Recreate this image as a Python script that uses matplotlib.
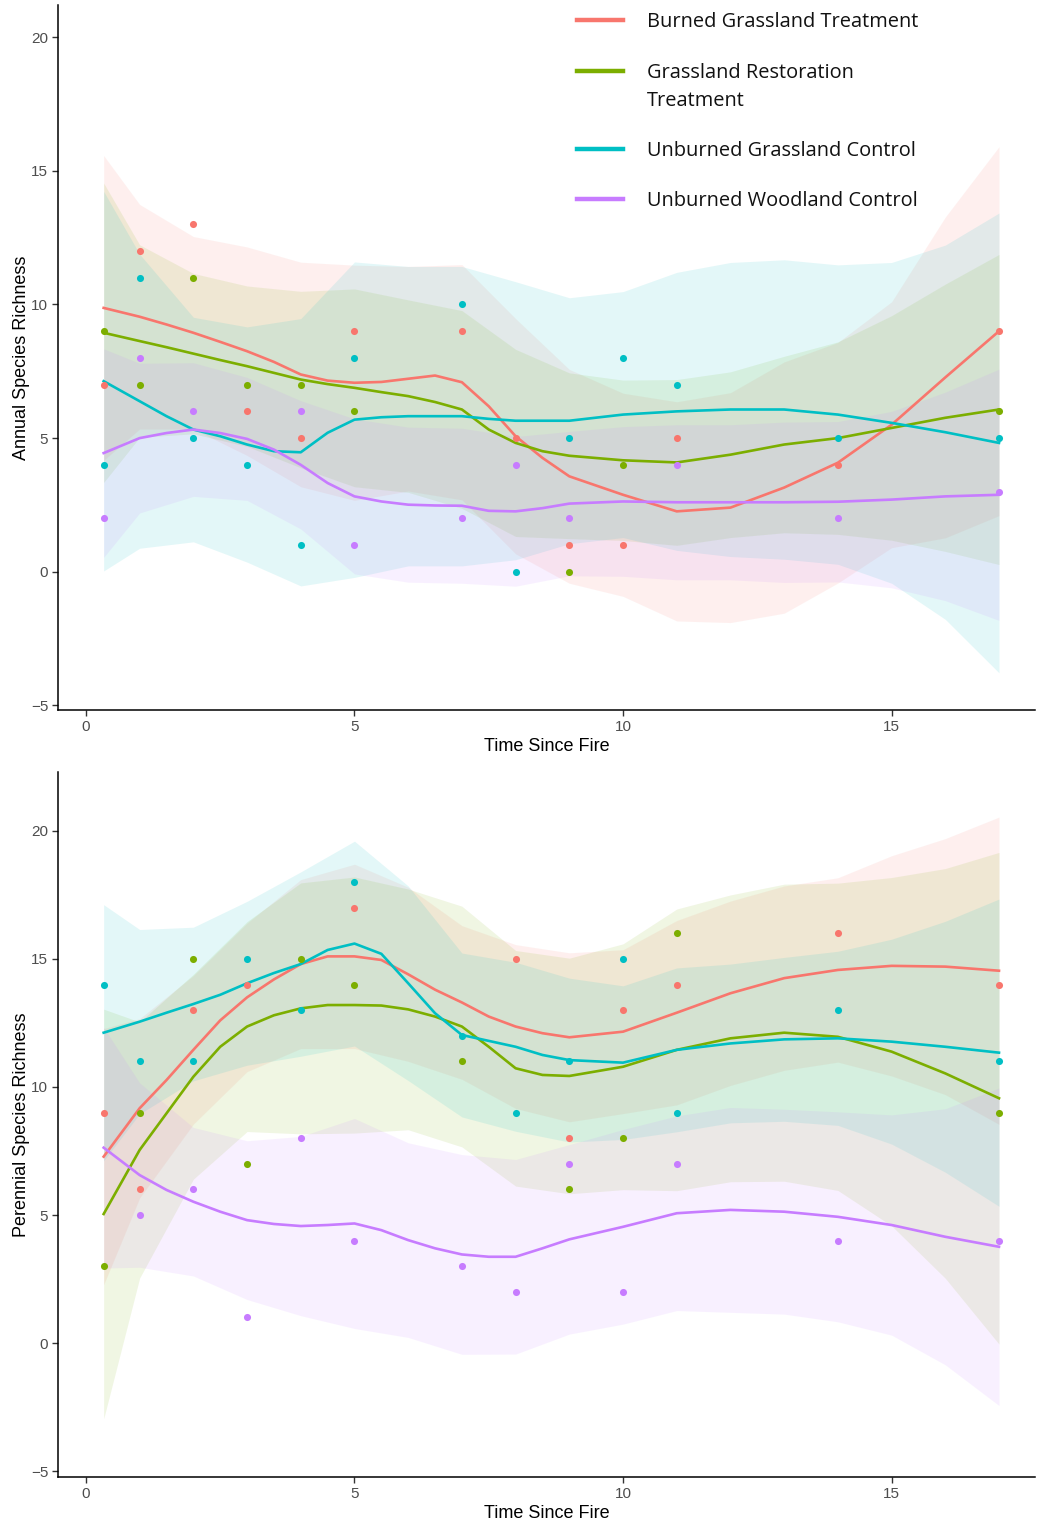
import numpy as np
import matplotlib
matplotlib.use("Agg")
import matplotlib.pyplot as plt
from matplotlib.lines import Line2D

nan = np.nan

# sampling years
years = [0.33, 1, 2, 3, 4, 5, 7, 8, 9, 10, 11, 14, 17]

# annual richness per plot
ann_burned = [7, 12, 13, 6, 5, 9, 9, 5, 1, 1, 5, 4, 9]
ann_restore = [9, 7, 11, 7, 7, 6, nan, nan, 0, 4, nan, nan, 6]
ann_unburned = [4, 11, 5, 4, 1, 8, 10, 0, 5, 8, 7, 5, 5]
ann_woodland = [2, 8, 6, nan, 6, 1, 2, 4, 2, nan, 4, 2, 3]

# perennial richness per plot
per_burned = [9, 6, 13, 14, nan, 17, nan, 15, 8, 13, 14, 16, 14]
per_restore = [3, 9, 15, 7, 15, 14, 11, nan, 6, 8, 16, nan, 9]
per_unburned = [14, 11, 11, 15, 13, 18, 12, 9, 11, 15, 9, 13, 11]
per_woodland = [nan, 5, 6, 1, 8, 4, 3, 2, 7, 2, 7, 4, 4]

# loess fits
fit_x = [0.33, 1, 1.5, 2, 2.5, 3, 3.5, 4, 4.5, 5, 5.5, 6, 6.5, 7, 7.5, 8, 8.5, 9,
         10, 11, 12, 13, 14, 15, 16, 17]
ann_fit_burned = [9.87, 9.54, 9.25, 8.94, 8.6, 8.25, 7.85, 7.38, 7.15, 7.07, 7.1, 7.22, 7.34,
                  7.09, 6.19, 5.07, 4.26, 3.57, 2.88, 2.26, 2.4, 3.15, 4.08, 5.5, 7.27, 9.0]
ann_fit_restore = [8.94, 8.63, 8.4, 8.16, 7.92, 7.69, 7.44, 7.19, 7.02, 6.88, 6.72, 6.57, 6.35,
                   6.07, 5.32, 4.82, 4.51, 4.34, 4.17, 4.09, 4.38, 4.76, 5.0, 5.38, 5.76, 6.07]
ann_fit_unburned = [7.13, 6.38, 5.82, 5.32, 5.07, 4.76, 4.51, 4.47, 5.2, 5.69, 5.78, 5.82, 5.82,
                    5.82, 5.72, 5.65, 5.65, 5.65, 5.88, 6.0, 6.07, 6.07, 5.88, 5.57, 5.22, 4.82]
ann_fit_woodland = [4.44, 5.0, 5.19, 5.32, 5.19, 4.97, 4.57, 4.0, 3.32, 2.82, 2.63, 2.51, 2.48,
                    2.47, 2.28, 2.26, 2.38, 2.55, 2.63, 2.6, 2.6, 2.6, 2.62, 2.7, 2.82, 2.88]

per_fit_burned = [7.28, 9.17, 10.27, 11.45, 12.6, 13.5, 14.2, 14.8, 15.1, 15.1, 14.96, 14.4, 13.8,
                  13.3, 12.75, 12.36, 12.1, 11.94, 12.16, 12.9, 13.66, 14.25, 14.57, 14.73, 14.7, 14.54]
per_fit_restore = [5.04, 7.54, 8.97, 10.4, 11.57, 12.36, 12.8, 13.07, 13.2, 13.2, 13.18, 13.03, 12.75,
                   12.36, 11.57, 10.73, 10.47, 10.43, 10.79, 11.45, 11.9, 12.12, 11.96, 11.38, 10.53, 9.56]
per_fit_unburned = [12.12, 12.55, 12.9, 13.24, 13.6, 14.05, 14.45, 14.8, 15.35, 15.6, 15.2, 14.05, 12.88,
                    12.03, 11.8, 11.57, 11.25, 11.05, 10.95, 11.45, 11.7, 11.86, 11.9, 11.77, 11.57, 11.34]
per_fit_woodland = [7.63, 6.56, 5.98, 5.52, 5.13, 4.8, 4.65, 4.57, 4.61, 4.67, 4.41, 4.02, 3.7,
                    3.46, 3.37, 3.37, 3.7, 4.05, 4.54, 5.07, 5.2, 5.13, 4.93, 4.61, 4.15, 3.76]

# confidence half-widths at the whole years
band_x = [0.33, 1, 2, 3, 4, 5, 6, 7, 8, 9, 10, 11, 12, 13, 14, 15, 16, 17]
ann_se_burned = [5.7, 4.2, 3.6, 3.9, 4.2, 4.4, 4.2, 4.4, 4.4, 4.0, 3.8, 4.1, 4.3, 4.7, 4.5, 4.6, 6.0, 6.9]
ann_se_restore = [5.6, 3.6, 3.0, 3.0, 3.3, 3.7, 3.6, 3.7, 3.5, 3.1, 3.0, 3.1, 3.1, 3.3, 3.6, 4.2, 5.0, 5.8]
ann_se_unburned = [7.1, 5.5, 4.2, 4.4, 5.0, 5.9, 5.6, 5.6, 5.2, 4.6, 4.6, 5.2, 5.5, 5.6, 5.6, 6.0, 7.0, 8.6]
ann_se_woodland = [3.9, 2.8, 2.5, 2.3, 2.4, 2.9, 2.9, 2.9, 2.8, 2.7, 2.8, 2.9, 2.9, 3.0, 3.0, 3.3, 3.9, 4.7]

per_se_burned = [5.0, 3.5, 2.9, 2.9, 3.3, 3.6, 3.4, 3.0, 3.2, 3.3, 3.2, 3.6, 3.6, 3.6, 3.6, 4.3, 5.0, 6.0]
per_se_restore = [8.0, 5.0, 4.0, 4.1, 4.9, 5.0, 4.7, 4.7, 4.6, 4.6, 4.8, 5.5, 5.6, 5.8, 6.0, 6.8, 8.0, 9.6]
per_se_unburned = [5.0, 3.6, 3.0, 3.2, 3.6, 4.0, 3.8, 3.2, 3.3, 3.2, 3.0, 3.2, 3.1, 3.2, 3.4, 4.0, 4.9, 6.0]
per_se_woodland = [4.7, 3.6, 2.9, 3.1, 3.5, 4.1, 3.8, 3.9, 3.8, 3.7, 3.8, 3.8, 4.0, 4.0, 4.1, 4.3, 5.0, 6.2]

groups = ["Burned Grassland Treatment", "Grassland Restoration\nTreatment",
          "Unburned Grassland Control", "Unburned Woodland Control"]
colors = ["#F8766D", "#7CAE00", "#00BFC4", "#C77CFF"]

plt.rcParams["font.family"] = ["Liberation Sans", "DejaVu Sans"]

W, H = 1037, 1523
fig = plt.figure(figsize=(W / 100, H / 100), dpi=100)


def panel(rect, pts, fits, ses, ylim, ylabel):
    ax = fig.add_axes(rect)
    fx = np.array(fit_x)
    keep = np.isin(fx, band_x)
    for i in range(4):
        ax.scatter(years, pts[i], s=26, color=colors[i], lw=0, zorder=3)
    for i in range(4):
        centre = np.array(fits[i])[keep]
        se = np.array(ses[i])
        ax.fill_between(band_x, centre - se, centre + se, color=colors[i], alpha=0.11, lw=0, zorder=1)
        ax.plot(fit_x, fits[i], color=colors[i], lw=1.9, zorder=2)
    ax.set_xlim(-0.52, 17.67)
    ax.set_ylim(*ylim)
    ax.set_xticks([0, 5, 10, 15])
    ax.set_yticks([-5, 0, 5, 10, 15, 20])
    for s in ["top", "right"]:
        ax.spines[s].set_visible(False)
    for s in ["left", "bottom"]:
        ax.spines[s].set_linewidth(1.1)
    ax.tick_params(direction="out", length=4, width=1, color="#333333",
                   labelsize=11, labelcolor="#4D4D4D", pad=3)
    ax.set_xlabel("Time Since Fire", fontsize=13, color="black", labelpad=3)
    ax.set_ylabel(ylabel, fontsize=13, color="black", labelpad=1)
    return ax


panel([58 / W, 1 - 710 / H, 977 / W, 705 / H],
      [ann_burned, ann_restore, ann_unburned, ann_woodland],
      [ann_fit_burned, ann_fit_restore, ann_fit_unburned, ann_fit_woodland],
      [ann_se_burned, ann_se_restore, ann_se_unburned, ann_se_woodland],
      (-5.17, 21.2), "Annual Species Richness")

panel([58 / W, 1 - 1477 / H, 977 / W, 705 / H],
      [per_burned, per_restore, per_unburned, per_woodland],
      [per_fit_burned, per_fit_restore, per_fit_unburned, per_fit_woodland],
      [per_se_burned, per_se_restore, per_se_unburned, per_se_woodland],
      (-5.23, 22.3), "Perennial Species Richness")

# legend in the top right corner
leg_rows = [20, 71, 149, 199]
for i, lab in enumerate(groups):
    yy = 1 - leg_rows[i] / H
    fig.add_artist(Line2D([577 / W, 623 / W], [yy, yy], color=colors[i], lw=3.2,
                          transform=fig.transFigure))
    fig.text(647 / W, yy + 8 / H, lab, fontsize=14.4, va="top", ha="left",
             family=["Open Sans", "DejaVu Sans"], linespacing=1.55, color="#111111")

fig.savefig("out.png", dpi=100)
